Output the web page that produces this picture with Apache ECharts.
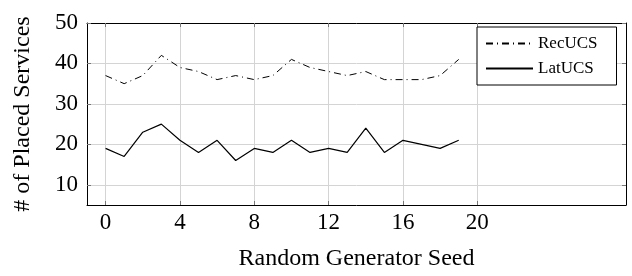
<!DOCTYPE html>
<html>
<head>
<meta charset="utf-8">
<script src="https://cdn.jsdelivr.net/npm/echarts@6/dist/echarts.min.js"></script>
<style>
  html, body { margin: 0; padding: 0; background: #fff; }
  #chart { width: 632px; height: 276px; }
</style>
</head>
<body>
<div id="chart"></div>
<script>
// data
const seeds = [0, 1, 2, 3, 4, 5, 6, 7, 8, 9, 10, 11, 12, 13, 14, 15, 16, 17, 18, 19]
const recUCS = [37, 35, 37, 42, 39, 38, 36, 37, 36, 37, 41, 39, 38, 37, 38, 36, 36, 36, 37, 41]
const latUCS = [19, 17, 23, 25, 21, 18, 21, 16, 19, 18, 21, 18, 19, 18, 24, 18, 21, 20, 19, 21]
const xTicks = [0, 4, 8, 12, 16, 20]
const yTicks = [10, 20, 30, 40, 50]

const font = 'Liberation Serif'
const tickColor = '#777'
const gridColor = '#d4d4d4'

let myChart = echarts.init(document.getElementById('chart'))

/* mirrored axes give the closed frame and inner ticks on all four sides */
let frameAxis = (pos, ticks, extra) => Object.assign({
  type: 'value',
  position: pos,
  axisLine: { show: true, onZero: false, lineStyle: { color: '#000', width: 1 } },
  axisTick: { show: true, inside: true, length: 4, customValues: ticks, lineStyle: { color: tickColor } },
  axisLabel: { show: false },
  splitLine: { show: false },
}, extra)

let option = {
  animation: false,
  grid: { left: 87, right: 6, top: 23, bottom: 70 },
  xAxis: [
    frameAxis('bottom', xTicks, {
      min: -1,
      max: 28,
      name: 'Random Generator Seed',
      nameLocation: 'middle',
      nameGap: 42,
      nameTextStyle: { fontFamily: font, fontSize: 24, color: '#000' },
      axisLabel: { show: true, customValues: xTicks, margin: 6, fontFamily: font, fontSize: 23, color: '#000' },
      splitLine: { show: true, lineStyle: { color: gridColor, width: 1 } },
    }),
    frameAxis('top', xTicks, { min: -1, max: 28 }),
  ],
  yAxis: [
    frameAxis('left', yTicks, {
      min: 5,
      max: 50,
      name: '# of Placed Services',
      nameLocation: 'middle',
      nameRotate: 90,
      nameGap: 52,
      nameTextStyle: { fontFamily: font, fontSize: 24, color: '#000' },
      axisLabel: { show: true, customValues: yTicks, margin: 9, fontFamily: font, fontSize: 23, color: '#000' },
      splitLine: { show: true, lineStyle: { color: gridColor, width: 1 } },
    }),
    frameAxis('right', yTicks, { min: 5, max: 50 }),
  ],
  legend: {
    orient: 'vertical',
    left: 477,
    top: 27,
    padding: [8, 19, 8, 8],
    itemGap: 8,
    itemWidth: 47,
    itemHeight: 14,
    borderColor: '#000',
    borderWidth: 1,
    backgroundColor: '#fff',
    // hide the marker that ECharts puts on a line legend icon
    itemStyle: { color: 'rgba(0,0,0,0)', borderColor: 'rgba(0,0,0,0)', borderWidth: 0 },
    textStyle: { fontFamily: font, fontSize: 17, color: '#000' },
    data: ['RecUCS', 'LatUCS'],
  },
  series: [
    {
      name: 'RecUCS',
      type: 'line',
      symbol: 'none',
      data: seeds.map((s, i) => [s, recUCS[i]]),
      lineStyle: { color: '#000', width: 1, type: [7, 4, 1, 4] },
      itemStyle: { color: '#000' },
    },
    {
      name: 'LatUCS',
      type: 'line',
      symbol: 'none',
      data: seeds.map((s, i) => [s, latUCS[i]]),
      lineStyle: { color: '#000', width: 1.2, type: 'solid' },
      itemStyle: { color: '#000' },
    },
  ],
}

myChart.setOption(option)
</script>
</body>
</html>
